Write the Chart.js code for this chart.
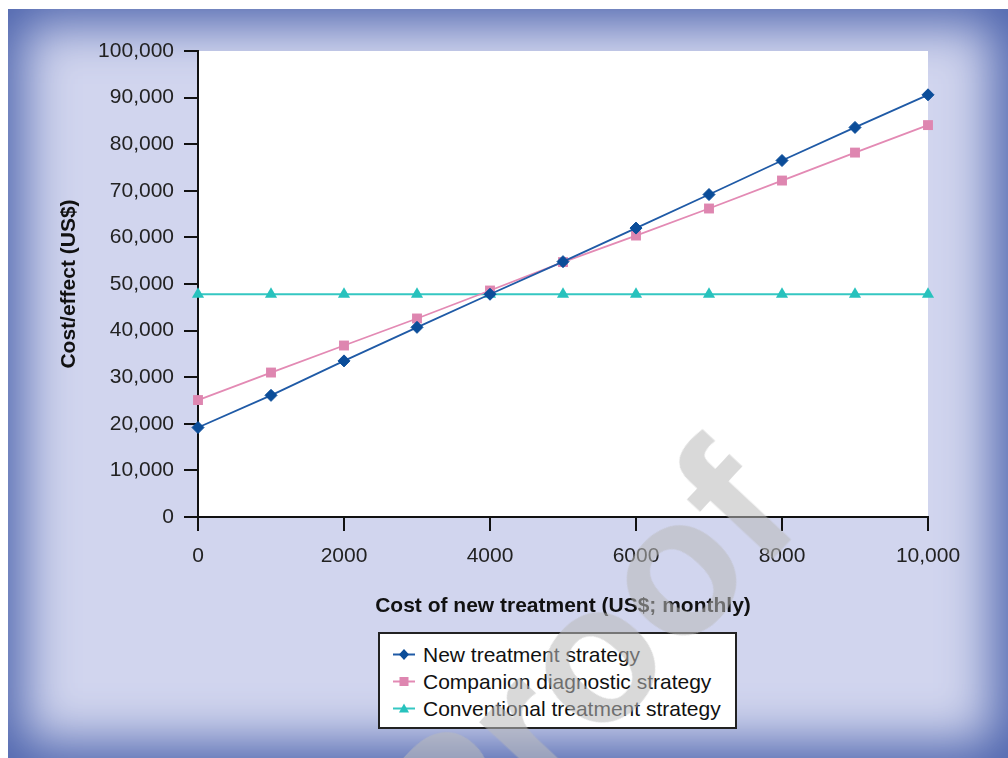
<!DOCTYPE html>
<html>
<head>
<meta charset="utf-8">
<script src="https://cdn.jsdelivr.net/npm/chart.js@4.4.1/dist/chart.umd.min.js"></script>
<style>
  html, body { margin: 0; padding: 0; background: #fff; }
  #wrap { position: relative; width: 1008px; height: 758px; overflow: hidden; font-family: 'Liberation Sans', Arial, sans-serif; }
  #panel { position: absolute; left: 8px; top: 9px; width: 1000px; height: 749px; background: #d1d5ee; box-shadow: inset 0 0 50px 15px #4d64ad; }
  #chart { position: absolute; left: 0; top: 0; }
  #legend { position: absolute; left: 378px; top: 632px; width: 359px; height: 97px; box-sizing: border-box; border: 2px solid #222; background: #fff; padding-top: 7px; }
  .row { height: 27px; display: flex; align-items: center; font-size: 21px; color: #111; white-space: nowrap; }
  .row svg { margin-left: 13px; margin-right: 8px; }
  #watermark { position: absolute; left: 457px; top: 732px; font: bold 195px/195px 'Liberation Sans', Arial, sans-serif; color: rgba(185,185,185,0.55); transform-origin: 0 165px; transform: rotate(-47deg); pointer-events: none; white-space: nowrap; }
</style>
</head>
<body>
<div id="wrap">
  <div id="panel"></div>
  <canvas id="chart" width="1008" height="758"></canvas>
  <div id="legend"></div>
  <div id="watermark">Proof</div>
</div>
<script>
// cost of new treatment (US$, monthly)
const xValues = [0, 1000, 2000, 3000, 4000, 5000, 6000, 7000, 8000, 9000, 10000];

// cost/effect (US$) per strategy
const newTreatment = [19200, 26100, 33500, 40700, 47800, 54800, 62000, 69200, 76500, 83600, 90600];
const companionDiagnostic = [25100, 31000, 36800, 42600, 48600, 54700, 60400, 66200, 72200, 78200, 84100];
const conventionalTreatment = [47800, 47800, 47800, 47800, 47800, 47800, 47800, 47800, 47800, 47800, 47800];

const seriesNames = ['New treatment strategy', 'Companion diagnostic strategy', 'Conventional treatment strategy'];

const xTickLabels = ['0', '2000', '4000', '6000', '8000', '10,000'];
const yTickLabels = ['0', '10,000', '20,000', '30,000', '40,000', '50,000', '60,000', '70,000', '80,000', '90,000', '100,000'];

const xTitle = 'Cost of new treatment (US$; monthly)';
const yTitle = 'Cost/effect (US$)';

const fontFamily = "'Liberation Sans', Arial, sans-serif";

function toPoints(values) {
    return xValues.map((x, i) => ({ x: x, y: values[i] }));
}

// white plot area
const plotBackground = {
    id: 'plotBackground',
    beforeDraw(chart) {
        const { ctx, chartArea } = chart;
        ctx.save();
        ctx.fillStyle = '#fff';
        ctx.fillRect(chartArea.left, chartArea.top, chartArea.right - chartArea.left, chartArea.bottom - chartArea.top);
        ctx.restore();
    }
};

const chart = new Chart(document.getElementById('chart'), {
    type: 'line',
    data: {
        datasets: [
            {
                label: seriesNames[0],
                data: toPoints(newTreatment),
                borderColor: '#1f5aa6',
                backgroundColor: '#0b4d99',
                pointBackgroundColor: '#0b4d99',
                pointBorderColor: '#0b4d99',
                pointStyle: 'rectRot',
                pointRadius: 6,
                pointBorderWidth: 1,
                borderWidth: 1.8,
                clip: false
            },
            {
                label: seriesNames[1],
                data: toPoints(companionDiagnostic),
                borderColor: '#e38ab4',
                backgroundColor: '#de86b0',
                pointBackgroundColor: '#de86b0',
                pointBorderColor: '#de86b0',
                pointStyle: 'rect',
                pointRadius: 7,
                pointBorderWidth: 0,
                borderWidth: 1.8,
                clip: false
            },
            {
                label: seriesNames[2],
                data: toPoints(conventionalTreatment),
                borderColor: '#35c7c2',
                backgroundColor: '#27c2bd',
                pointBackgroundColor: '#27c2bd',
                pointBorderColor: '#27c2bd',
                pointStyle: 'triangle',
                pointRadius: 7,
                pointBorderWidth: 0,
                borderWidth: 1.8,
                clip: false
            }
        ]
    },
    options: {
        responsive: false,
        animation: false,
        layout: { padding: { left: 0, top: 51, right: 80, bottom: 121 } },
        plugins: {
            legend: { display: false },
            tooltip: { enabled: false }
        },
        scales: {
            x: {
                type: 'linear',
                min: 0,
                max: 10000,
                afterFit: (scale) => { scale.height = 120; },
                ticks: {
                    stepSize: 2000,
                    padding: 13,
                    maxRotation: 0,
                    autoSkip: false,
                    color: '#222',
                    font: { family: fontFamily, size: 21 },
                    callback: (value, index) => xTickLabels[index]
                },
                grid: { drawOnChartArea: false, drawTicks: true, tickLength: 14, color: '#111', lineWidth: 2 },
                border: { color: '#111', width: 2 },
                title: {
                    display: true,
                    text: xTitle,
                    color: '#111',
                    font: { family: fontFamily, size: 21, weight: 'bold' },
                    padding: { top: 0, bottom: 18 }
                }
            },
            y: {
                min: 0,
                max: 100000,
                afterFit: (scale) => { scale.width = 198; },
                ticks: {
                    stepSize: 10000,
                    padding: 10,
                    color: '#222',
                    font: { family: fontFamily, size: 21 },
                    callback: (value, index) => yTickLabels[index]
                },
                grid: { drawOnChartArea: false, drawTicks: true, tickLength: 14, color: '#111', lineWidth: 2 },
                border: { color: '#111', width: 2 },
                title: {
                    display: true,
                    text: yTitle,
                    color: '#111',
                    font: { family: fontFamily, size: 21, weight: 'bold' },
                    padding: { top: 57, bottom: 0 }
                }
            }
        }
    },
    plugins: [plotBackground]
});

// HTML legend built from the datasets
function markerSvg(ds) {
    const fill = ds.pointBackgroundColor;
    let shape = '';
    if (ds.pointStyle === 'rectRot') {
        shape = `<polygon points="11,8 16,13.5 11,19 6,13.5" fill="${fill}"/>`;
    } else if (ds.pointStyle === 'rect') {
        shape = `<rect x="6.5" y="9" width="9" height="9" fill="${fill}"/>`;
    } else {
        shape = `<polygon points="11,8.5 16,17.5 6,17.5" fill="${fill}"/>`;
    }
    return `<svg width="22" height="27" viewBox="0 0 22 27">` +
        `<line x1="0" y1="13.5" x2="22" y2="13.5" stroke="${ds.borderColor}" stroke-width="2"/>` +
        shape + `</svg>`;
}

const legendBox = document.getElementById('legend');
chart.data.datasets.forEach(ds => {
    const row = document.createElement('div');
    row.className = 'row';
    row.innerHTML = markerSvg(ds) + `<span>${ds.label}</span>`;
    legendBox.appendChild(row);
});
</script>
</body>
</html>
